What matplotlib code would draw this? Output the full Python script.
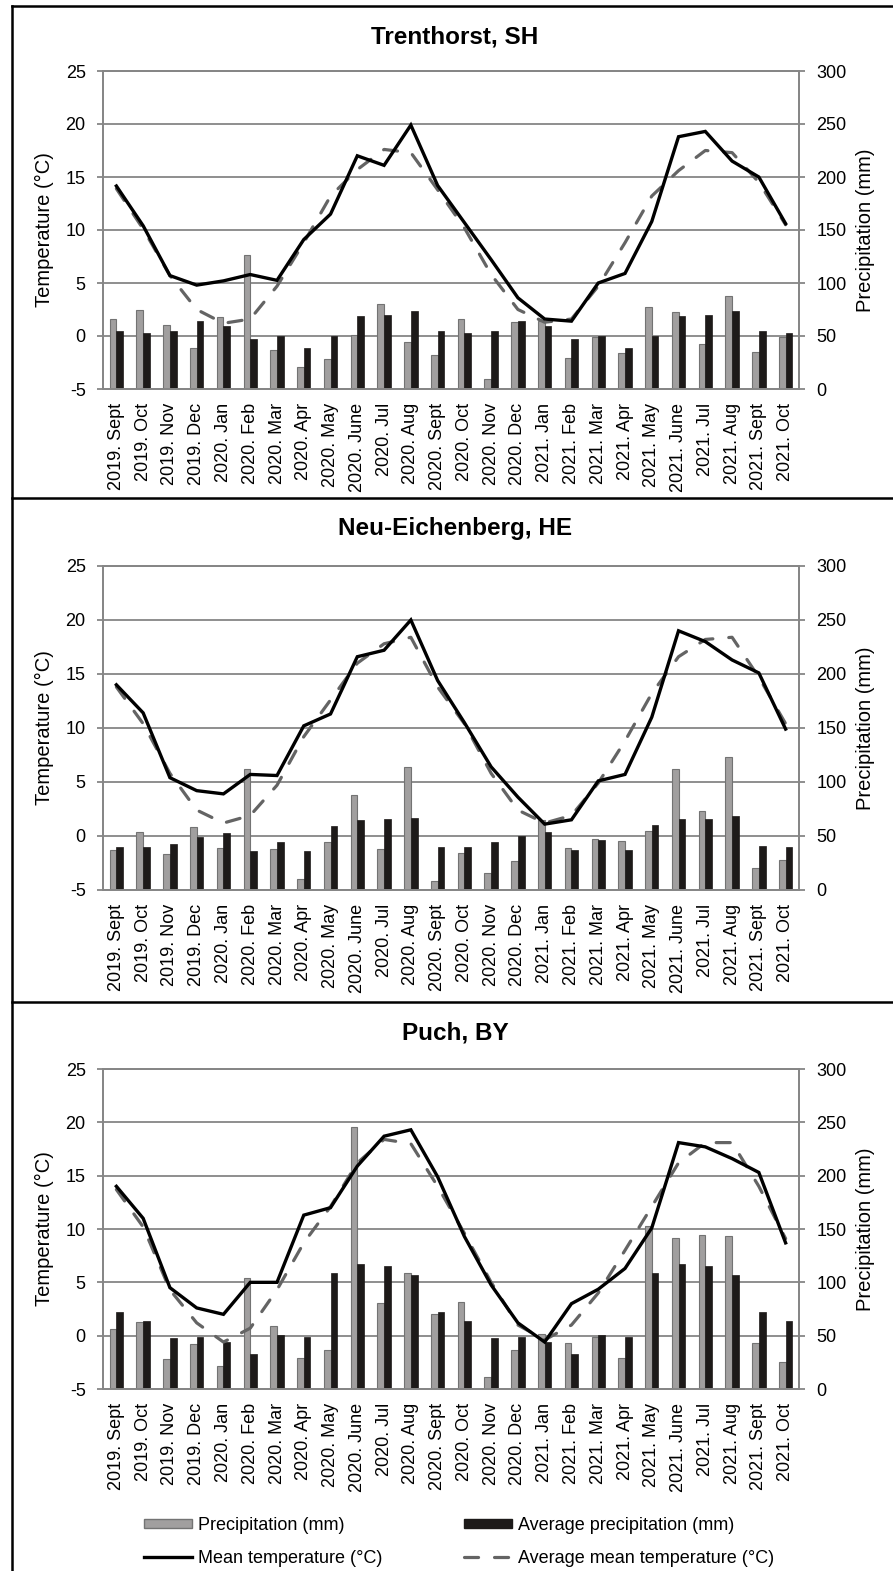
import numpy as np
import matplotlib
matplotlib.use("Agg")
import matplotlib.pyplot as plt
from matplotlib.lines import Line2D
from matplotlib.patches import Patch

plt.rcParams['font.family'] = ['Liberation Sans', 'DejaVu Sans']
plt.rcParams['axes.unicode_minus'] = False

months = ["2019. Sept", "2019. Oct", "2019. Nov", "2019. Dec",
          "2020. Jan", "2020. Feb", "2020. Mar", "2020. Apr", "2020. May", "2020. June",
          "2020. Jul", "2020. Aug", "2020. Sept", "2020. Oct", "2020. Nov", "2020. Dec",
          "2021. Jan", "2021. Feb", "2021. Mar", "2021. Apr", "2021. May", "2021. June",
          "2021. Jul", "2021. Aug", "2021. Sept", "2021. Oct"]

sites = ["Trenthorst, SH", "Neu-Eichenberg, HE", "Puch, BY"]

# precipitation (mm)
precip_sh = [66, 75, 60, 39, 68, 126, 37, 21, 28, 51, 80, 44, 32,
             66, 9.5, 63, 64, 29, 49, 34, 77, 73, 42, 88, 35, 49]
precip_he = [37, 53.5, 33, 58, 38.5, 112, 37.6, 10.4, 44, 88, 37.6, 114, 8,
             34, 16, 27, 65, 39, 47.5, 45, 55, 112, 73, 123, 20, 28]
precip_by = [56, 62.5, 28, 42.5, 22, 104, 59, 29, 36.6, 246, 81, 109, 70,
             82, 11.5, 36.5, 52, 43, 49, 29, 153, 142, 144, 143, 43, 25]

# long-term average precipitation (mm)
avg_precip_sh = [55, 53, 55, 64, 59, 47, 50, 39, 50, 69, 70, 74, 55,
                 53, 55, 64, 59, 47, 50, 39, 50, 69, 70, 74, 55, 53]
avg_precip_he = [40, 39.5, 43, 49, 53, 36, 44.6, 36, 59, 65, 66, 67, 40,
                 40, 44, 50, 54, 37, 46, 37, 60, 66, 66, 68.5, 41, 40]
avg_precip_by = [72, 63.4, 48, 49, 44, 33, 50.6, 49, 109, 117, 115, 107, 72,
                 64, 48, 49, 44, 33, 50.6, 49, 109, 117, 115, 107, 72, 64]

# mean temperature (°C)
temp_sh = [14.15, 10.4, 5.7, 4.8, 5.2, 5.8, 5.25, 9.1, 11.5, 17.0, 16.1, 19.9, 14.2,
           10.7, 7.2, 3.6, 1.6, 1.4, 5.0, 5.9, 10.8, 18.8, 19.3, 16.5, 15.0, 10.6]
temp_he = [14.0, 11.4, 5.4, 4.2, 3.9, 5.7, 5.6, 10.2, 11.3, 16.6, 17.2, 20.0, 14.4,
           10.5, 6.4, 3.6, 1.1, 1.5, 5.1, 5.7, 11.0, 19.0, 18.0, 16.3, 15.1, 9.9]
temp_by = [14.0, 11.0, 4.5, 2.6, 2.0, 5.0, 5.0, 11.3, 12.0, 15.9, 18.7, 19.3, 14.9,
           9.3, 4.75, 1.2, -0.6, 3.0, 4.35, 6.3, 10.1, 18.1, 17.7, 16.6, 15.3, 8.7]

# long-term average mean temperature (°C)
avg_temp_sh = [13.9, 10.1, 5.7, 2.5, 1.2, 1.6, 4.7, 8.8, 13.2, 15.7, 17.6, 17.3, 13.8,
               10.2, 5.8, 2.5, 1.3, 1.6, 4.7, 8.8, 13.2, 15.6, 17.5, 17.3, 14.5, 10.5]
avg_temp_he = [13.8, 10.4, 5.8, 2.4, 1.2, 1.9, 4.7, 9.2, 12.6, 16.0, 17.8, 18.4, 13.8,
               10.4, 5.8, 2.4, 1.2, 1.9, 4.9, 8.8, 13.2, 16.6, 18.2, 18.4, 14.7, 10.4]
avg_temp_by = [13.7, 10.2, 4.3, 1.2, -0.6, 0.7, 4.3, 8.7, 12.1, 16.2, 18.4, 18.0, 14.0,
               9.6, 5.0, 1.0, -0.4, 1.0, 4.0, 8.0, 12.1, 16.2, 18.1, 18.1, 14.0, 9.1]

precip = [precip_sh, precip_he, precip_by]
avg_precip = [avg_precip_sh, avg_precip_he, avg_precip_by]
temp = [temp_sh, temp_he, temp_by]
avg_temp = [avg_temp_sh, avg_temp_he, avg_temp_by]

W, H = 893, 1571
GRID = '#868686'
BAR_GREY = '#a19f9f'
BAR_EDGE = '#737373'
BAR_BLACK = '#1d1a19'
DASH = '#646464'
dash_style = (0, (4.4, 5.0))

fig = plt.figure(figsize=(W / 100, H / 100), dpi=100)

# plot area (left, top, right, bottom) in pixels and title y
panels = [(103, 71, 799, 389, 37),
          (103, 566, 799, 890, 528),
          (103, 1069, 799, 1389, 1033)]

x = np.arange(len(months))

for i, (l, t, r, b, ty) in enumerate(panels):
    ax = fig.add_axes([l / W, 1 - b / H, (r - l) / W, (b - t) / H])
    ax2 = ax.twinx()

    ax2.bar(x - 0.125, precip[i], 0.25, color=BAR_GREY, edgecolor=BAR_EDGE, linewidth=0.8)
    ax2.bar(x + 0.125, avg_precip[i], 0.25, color=BAR_BLACK, edgecolor=BAR_BLACK, linewidth=0.5)
    ax2.set_ylim(0, 300)
    ax2.set_yticks(range(0, 301, 50))
    ax2.grid(axis='y', color=GRID, linewidth=1.3)
    ax2.set_axisbelow(True)

    ax.plot(x, avg_temp[i], color=DASH, lw=2.3, linestyle=dash_style, dash_capstyle='round')
    ax.plot(x, temp[i], color='black', lw=2.4, solid_joinstyle='miter')
    ax.set_ylim(-5, 25)
    ax.set_yticks(range(-5, 26, 5))
    ax.set_xlim(-0.5, len(months) - 0.5)
    ax.set_xticks(x)
    ax.set_xticklabels(months, rotation=90, fontsize=13)
    ax.tick_params(axis='x', length=0, pad=10)

    ax.set_zorder(ax2.get_zorder() + 1)
    ax.patch.set_visible(False)

    for a in (ax, ax2):
        for s in a.spines.values():
            s.set_color(GRID)
            s.set_linewidth(1.3)
    ax.tick_params(axis='y', length=4.5, width=1.3, color=GRID, pad=8, labelsize=13)
    ax2.tick_params(axis='y', length=4.5, width=1.3, color=GRID, pad=8, labelsize=13)

    ax.set_ylabel("Temperature (°C)", fontsize=14.5)
    ax2.set_ylabel("Precipitation (mm)", fontsize=14.5)
    ax.yaxis.set_label_coords((54 - l) / (r - l), 0.5)
    ax2.yaxis.set_label_coords((856 - l) / (r - l), 0.5)

    fig.text(455 / W, 1 - ty / H, sites[i], ha='center', va='center',
             fontsize=17.5, fontweight='bold')

# panel frames
frame_kw = dict(color='black', lw=1.8, transform=fig.transFigure)
fig.add_artist(Line2D([12 / W, 12 / W], [1 - 6 / H, 0], **frame_kw))
for yy in (6, 498, 1002):
    fig.add_artist(Line2D([12 / W, 1.0], [1 - yy / H, 1 - yy / H], **frame_kw))

handles = [Patch(facecolor=BAR_GREY, edgecolor=BAR_EDGE, linewidth=1.0),
           Line2D([], [], color='black', lw=2.4),
           Patch(facecolor=BAR_BLACK, edgecolor=BAR_BLACK),
           Line2D([], [], color=DASH, lw=2.3, linestyle=dash_style, dash_capstyle='round')]
labels = ["Precipitation (mm)", "Mean temperature (°C)",
          "Average precipitation (mm)", "Average mean temperature (°C)"]
fig.legend(handles, labels, loc='center', bbox_to_anchor=(459 / W, 1 - 1542 / H),
           ncol=2, frameon=False, fontsize=13, handlelength=2.65, handletextpad=0.35,
           columnspacing=4.5, handleheight=0.4, labelspacing=0.85)

fig.savefig("out.png", dpi=100)
